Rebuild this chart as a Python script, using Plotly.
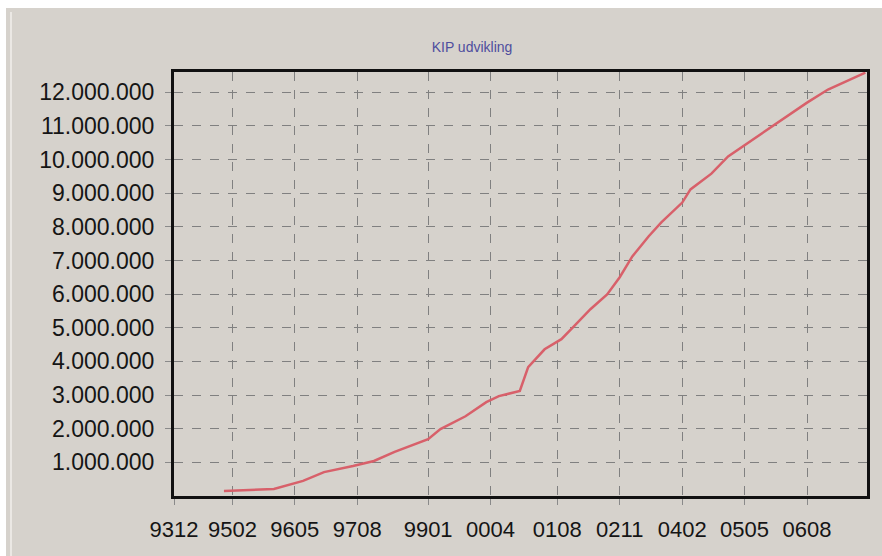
import plotly.graph_objects as go

# ---- data ----
months = ["1994-12", "1995-09", "1995-12", "1996-07", "1996-12", "1997-07", "1997-12",
          "1998-05", "1999-01", "1999-04", "1999-10", "2000-03", "2000-06", "2000-11",
          "2001-01", "2001-05", "2001-09", "2001-12", "2002-04", "2002-08", "2002-11",
          "2003-02", "2003-06", "2003-09", "2004-02", "2004-04", "2004-09", "2005-01",
          "2005-07", "2006-01", "2006-08", "2007-01", "2007-10"]
kip = [150000, 180000, 210000, 450000, 710000, 890000, 1040000,
       1310000, 1690000, 1990000, 2370000, 2790000, 2970000, 3120000,
       3830000, 4360000, 4660000, 5040000, 5550000, 5990000, 6500000,
       7120000, 7720000, 8130000, 8720000, 9110000, 9580000, 10090000,
       10590000, 11100000, 11690000, 12080000, 12580000]

x_tick_labels = ["9312", "9502", "9605", "9708", "9901", "0004", "0108",
                 "0211", "0402", "0505", "0608"]
y_tick_values = [1000000, 2000000, 3000000, 4000000, 5000000, 6000000,
                 7000000, 8000000, 9000000, 10000000, 11000000, 12000000]
title_text = "KIP udvikling"


def yymm_to_date(s):
    yy = int(s[:2])
    year = 1900 + yy if yy > 50 else 2000 + yy
    return f"{year}-{s[2:]}-01"


x_tick_dates = [yymm_to_date(s) for s in x_tick_labels]

# ---- figure ----
W, H = 882, 556
L, R, T, B = 174, 15, 72, 60
BG = "#d6d2cc"
pw, ph = W - L - R, H - T - B


def px(x):
    return (x - L) / pw


def py(y):
    return (H - B - y) / ph


fig = go.Figure()
fig.add_trace(go.Scatter(
    x=months, y=kip, mode="lines",
    line=dict(color="#d8606a", width=2.5),
    showlegend=False, hoverinfo="skip"))

fam = "Liberation Sans, Arial, sans-serif"
xfont = dict(family=fam, size=22, color="#151515")
yfont = dict(family=fam, size=23, color="#151515")

fig.update_layout(
    width=W, height=H,
    margin=dict(l=L, r=R, t=T, b=B),
    paper_bgcolor=BG, plot_bgcolor=BG,
    separators=",.",
    title=dict(text=title_text, x=px(472), xref="paper", xanchor="center",
               y=1 - 47 / H, yref="container", yanchor="middle",
               font=dict(family=fam, size=14, color="#4e4e9e")),
    xaxis=dict(type="date", range=["1993-12-01", "2007-10-13"],
               tickvals=x_tick_dates, ticktext=x_tick_labels,
               showgrid=True, gridcolor="#808080", griddash="dash", gridwidth=1,
               ticks="outside", ticklen=6, tickcolor="#8a8a8a",
               tickfont=xfont, ticklabelstandoff=6,
               showline=True, linecolor="#111111", linewidth=3, mirror=True,
               zeroline=False, fixedrange=True),
    yaxis=dict(range=[0, 12600000], tickvals=y_tick_values, tickformat=",d",
               showgrid=True, gridcolor="#808080", griddash="dash", gridwidth=1,
               ticks="outside", ticklen=6, tickcolor="#8a8a8a",
               tickfont=yfont, ticklabelstandoff=6,
               showline=True, linecolor="#111111", linewidth=3, mirror=True,
               zeroline=False, fixedrange=True),
    shapes=[
        # white frame outside the grey panel (top and left)
        dict(type="rect", xref="paper", yref="paper",
             x0=px(0), x1=px(W), y0=py(8), y1=py(0),
             fillcolor="white", line=dict(width=0), layer="above"),
        dict(type="rect", xref="paper", yref="paper",
             x0=px(0), x1=px(6), y0=py(H), y1=py(0),
             fillcolor="white", line=dict(width=0), layer="above"),
        # light bevel line of the panel
        dict(type="line", xref="paper", yref="paper",
             x0=px(11), x1=px(11), y0=py(H), y1=py(12),
             line=dict(color="#ebe8e4", width=2)),
    ],
)

fig.write_html("out.html",
               config={"displayModeBar": False, "staticPlot": True},
               post_script="document.body.style.margin='0px';"
                           "document.body.style.overflow='hidden';")
